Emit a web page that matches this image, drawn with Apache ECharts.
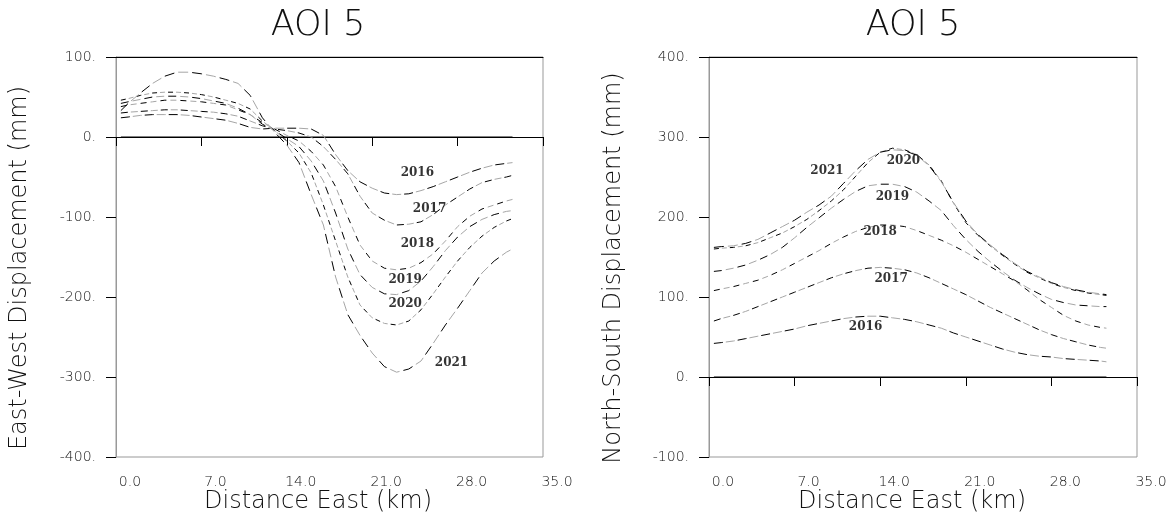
<!DOCTYPE html>
<html>
<head>
<meta charset="utf-8">
<script src="https://cdn.jsdelivr.net/npm/echarts@6/dist/echarts.min.js"></script>
<style>
  html, body { margin: 0; padding: 0; background: #fff; }
  #chart { width: 1172px; height: 521px; }
</style>
</head>
<body>
<div id="chart"></div>
<script>
// Profile sample positions (km east)
const distanceKm = [0.4, 1, 2, 3, 4, 5, 6, 7, 8, 9, 10, 11, 12, 13, 14, 15, 16, 17, 18, 19, 20,
  21, 22, 23, 24, 25, 26, 27, 28, 29, 30, 31, 32, 32.5];

const years = ['2016', '2017', '2018', '2019', '2020', '2021'];

// East-West displacement (mm)
const eastWest2016 = [24, 25, 27, 28, 28, 28, 27, 25, 23, 21, 17, 12, 10, 11, 11, 11, 10, 2, -22, -42, -56,
  -64, -70, -72, -71, -67, -62, -56, -50, -44, -39, -35, -33, -32];
const eastWest2017 = [30, 31, 32, 33, 34, 34, 33, 32, 31, 29, 26, 20, 14, 10, 8, 5, 0, -12, -28, -46, -74,
  -95, -104, -110, -109, -106, -97, -85, -75, -65, -57, -53, -50, -48];
const eastWest2018 = [38, 40, 42, 44, 46, 46, 45, 44, 42, 40, 34, 28, 18, 10, 2, -5, -18, -35, -62, -100, -135,
  -155, -164, -166, -164, -157, -146, -130, -112, -99, -90, -85, -80, -78];
const eastWest2019 = [42, 44, 47, 50, 51, 51, 50, 48, 45, 42, 36, 28, 16, 8, -2, -12, -30, -55, -95, -140, -172,
  -188, -196, -197, -192, -180, -162, -142, -125, -112, -103, -97, -93, -92];
const eastWest2020 = [46, 48, 52, 55, 56, 56, 55, 53, 50, 46, 42, 35, 20, 8, -5, -20, -45, -85, -130, -175, -210,
  -226, -233, -235, -230, -216, -196, -175, -155, -138, -124, -113, -105, -102];
const eastWest2021 = [33, 42, 55, 67, 76, 81, 81, 79, 76, 72, 67, 52, 24, 6, -10, -32, -72, -110, -175, -222, -248,
  -270, -287, -294, -290, -280, -258, -235, -214, -192, -170, -155, -144, -140];

// North-South displacement (mm)
const northSouth2016 = [42, 43, 45, 48, 51, 54, 57, 60, 64, 67, 70, 73, 75, 76, 76, 74, 72, 69, 65, 61, 55,
  50, 45, 40, 35, 31, 28, 26, 25, 23, 22, 21, 20, 19];
const northSouth2017 = [70, 73, 77, 82, 88, 94, 100, 106, 112, 118, 124, 129, 133, 136, 137, 136, 134, 130, 124, 117, 110,
  103, 95, 87, 80, 73, 66, 59, 53, 48, 44, 40, 37, 36];
const northSouth2018 = [108, 110, 113, 117, 121, 127, 134, 142, 150, 158, 167, 175, 182, 187, 190, 190, 188, 183, 177, 171, 164,
  156, 147, 138, 129, 120, 109, 97, 87, 77, 70, 65, 62, 61];
const northSouth2019 = [132, 133, 136, 140, 146, 153, 162, 174, 187, 199, 211, 222, 232, 239, 241, 241, 238, 231, 220, 208, 189,
  172, 157, 144, 132, 121, 112, 104, 97, 93, 90, 89, 88, 88];
const northSouth2020 = [160, 161, 162, 164, 168, 174, 180, 188, 197, 208, 220, 234, 251, 268, 281, 286, 284, 278, 265, 245, 217,
  193, 177, 164, 152, 141, 131, 124, 117, 112, 108, 105, 103, 102];
const northSouth2021 = [162, 163, 164, 167, 172, 180, 188, 196, 206, 215, 226, 242, 258, 272, 281, 284, 283, 277, 264, 244, 218,
  195, 178, 165, 153, 142, 132, 125, 118, 113, 109, 106, 104, 103];

// Axis ranges and tick spacing
const distanceTicks = { min: 0, max: 35, step: 7 };
const eastWestTicks = { min: -400, max: 100, step: 100 };
const northSouthTicks = { min: -100, max: 400, step: 100 };

// Year tags, placed in data units (km, mm)
const eastWestTagAt = [[24.7, -45], [25.7, -90], [24.7, -134], [23.7, -179], [23.7, -209], [27.5, -282]];
const northSouthTagAt = [[12.8, 62.5], [14.9, 122.5], [14.0, 181], [15.0, 225], [15.9, 270], [9.65, 257.5]];

const eastWestByYear = [eastWest2016, eastWest2017, eastWest2018, eastWest2019, eastWest2020, eastWest2021];
const northSouthByYear = [northSouth2016, northSouth2017, northSouth2018, northSouth2019, northSouth2020, northSouth2021];

// Dash length / gap for each year; dashes alternate black and grey
const dashByYear = [[9, 3], [7, 3], [6, 4], [8, 4], [5, 3], [10, 4]];

const FONT = 'DejaVu Sans';
const INK = '#111';
const GREY = '#a6a6a6';

function profileSeries(axisIdx, values, yearIdx) {
  const [d, g] = dashByYear[yearIdx];
  const period = 2 * (d + g);
  const pts = distanceKm.map((x, k) => [x, values[k]]);
  const base = {
    type: 'line', xAxisIndex: axisIdx, yAxisIndex: axisIdx, data: pts,
    symbol: 'none', showSymbol: false, silent: true, animation: false, z: 3
  };
  return [
    Object.assign({}, base, { lineStyle: { color: '#000', width: 1, type: [d, period - d], dashOffset: 0 } }),
    Object.assign({}, base, { lineStyle: { color: GREY, width: 1, type: [d, period - d], dashOffset: d + g } })
  ];
}

function zeroSeries(axisIdx) {
  return {
    type: 'line', xAxisIndex: axisIdx, yAxisIndex: axisIdx, symbol: 'none', silent: true, animation: false,
    data: [[distanceKm[0], 0], [distanceKm[distanceKm.length - 1], 0]],
    lineStyle: { color: '#000', width: 1 }, z: 2
  };
}

function tagSeries(axisIdx, spots) {
  return {
    type: 'scatter', xAxisIndex: axisIdx, yAxisIndex: axisIdx, silent: true, animation: false,
    symbolSize: 1, itemStyle: { color: 'rgba(0,0,0,0)' }, z: 5,
    data: spots.map((p, i) => ({ value: p, name: years[i] })),
    label: {
      show: true, position: 'inside', formatter: '{b}',
      fontFamily: 'DejaVu Serif', fontWeight: 'bold', fontSize: 12, color: '#000'
    }
  };
}

function bottomAxis(gridIdx) {
  return {
    type: 'value', gridIndex: gridIdx, position: 'bottom',
    min: distanceTicks.min, max: distanceTicks.max, interval: distanceTicks.step,
    splitLine: { show: false },
    axisLine: { show: true, lineStyle: { color: '#000', width: 1 } },
    axisTick: { show: true, inside: false, length: 9, lineStyle: { color: '#000' } },
    axisLabel: {
      show: true, margin: 18, fontFamily: FONT, fontSize: 14, fontWeight: 300, color: INK,
      padding: [0, 0, 0, 28], formatter: v => v.toFixed(1)
    }
  };
}

function topAxis(gridIdx) {
  return {
    type: 'value', gridIndex: gridIdx, position: 'top',
    min: distanceTicks.min, max: distanceTicks.max,
    splitLine: { show: false }, axisTick: { show: false }, axisLabel: { show: false },
    axisLine: { show: true, lineStyle: { color: '#000', width: 1 } }
  };
}

function leftAxis(gridIdx, range) {
  return {
    type: 'value', gridIndex: gridIdx, position: 'left',
    min: range.min, max: range.max, interval: range.step,
    splitLine: { show: false },
    axisLine: { show: true, lineStyle: { color: '#999', width: 1 } },
    axisTick: { show: true, inside: false, length: 10, lineStyle: { color: '#000' } },
    axisLabel: {
      show: true, margin: 20, fontFamily: FONT, fontSize: 14, fontWeight: 300, color: INK,
      formatter: v => v + '.'
    }
  };
}

function caption(text, x, y, size, rotate) {
  return {
    type: 'text', x: x, y: y, rotation: rotate ? Math.PI / 2 : 0, silent: true,
    style: {
      text: text, fill: INK, font: '200 ' + size + 'px "' + FONT + '"',
      textAlign: 'center', textVerticalAlign: 'middle'
    }
  };
}

const series = [];
eastWestByYear.forEach((vals, i) => series.push(...profileSeries(0, vals, i)));
northSouthByYear.forEach((vals, i) => series.push(...profileSeries(1, vals, i)));
series.push(zeroSeries(0), zeroSeries(1));
series.push(tagSeries(0, eastWestTagAt), tagSeries(1, northSouthTagAt));

const chart = echarts.init(document.getElementById('chart'), null, { renderer: 'canvas' });
chart.setOption({
  animation: false,
  backgroundColor: '#fff',
  grid: [
    { left: 116, top: 57, width: 427, height: 400, show: true, borderColor: '#999', borderWidth: 1 },
    { left: 709, top: 57, width: 428, height: 400, show: true, borderColor: '#999', borderWidth: 1 }
  ],
  xAxis: [bottomAxis(0), bottomAxis(1), topAxis(0), topAxis(1)],
  yAxis: [leftAxis(0, eastWestTicks), leftAxis(1, northSouthTicks)],
  graphic: [
    caption('AOI 5', 318, 26, 35, false),
    caption('AOI 5', 913, 26, 35, false),
    caption('Distance East (km)', 318, 502, 24, false),
    caption('Distance East (km)', 912, 502, 24, false),
    caption('East-West Displacement (mm)', 20, 268, 24, true),
    caption('North-South Displacement (mm)', 614, 268, 24, true)
  ],
  series: series
});
</script>
</body>
</html>
